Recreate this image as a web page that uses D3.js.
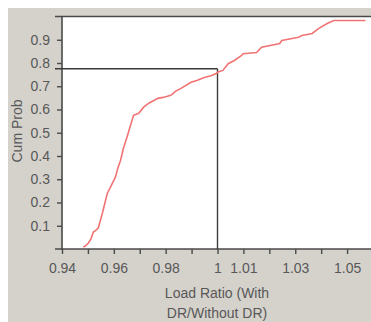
<!DOCTYPE html>
<html>
<head>
<meta charset="utf-8">
<script src="https://cdn.jsdelivr.net/npm/d3@7"></script>
<style>
  html, body { margin: 0; padding: 0; background: #fff; }
  svg { display: block; }
  text { font-family: "Liberation Sans", Arial, sans-serif; }
</style>
</head>
<body>
<div id="chart"></div>
<script>
// cumulative distribution
const loadRatio = [0.9482, 0.9490, 0.9502, 0.9512, 0.9521, 0.9530, 0.9540, 0.9556, 0.9566, 0.9575,
  0.9587, 0.9606, 0.9616, 0.9626, 0.9637, 0.9645, 0.9653, 0.9676, 0.9696, 0.9715,
  0.9735, 0.9770, 0.9790, 0.9820, 0.9840, 0.9859, 0.9898, 0.9920, 0.9949, 0.9975,
  0.9995, 1.0002, 1.0021, 1.0041, 1.0065, 1.0093, 1.0099, 1.0151, 1.0170, 1.0240,
  1.0248, 1.0313, 1.0326, 1.0365, 1.0391, 1.0423, 1.0449, 1.0571];
const cumProb = [0.009, 0.013, 0.026, 0.045, 0.073, 0.080, 0.090, 0.155, 0.200, 0.240,
  0.266, 0.309, 0.350, 0.382, 0.433, 0.460, 0.489, 0.575, 0.584, 0.610,
  0.627, 0.648, 0.652, 0.661, 0.680, 0.691, 0.717, 0.725, 0.738, 0.745,
  0.755, 0.761, 0.768, 0.797, 0.811, 0.833, 0.840, 0.845, 0.868, 0.884,
  0.897, 0.911, 0.918, 0.927, 0.949, 0.970, 0.983, 0.983];

const xTicks = [0.94, 0.95, 0.96, 0.97, 0.98, 0.99, 1, 1.01, 1.02, 1.03, 1.04, 1.05];
const xLabels = ['0.94', '', '0.96', '', '0.98', '', '1', '1.01', '', '1.03', '', '1.05'];
const yTicks = [0.1, 0.2, 0.3, 0.4, 0.5, 0.6, 0.7, 0.8, 0.9];
const refX = 1.0;
const refP = 0.775;

const width = 371, height = 322;
const plot = { left: 62, right: 373, top: 16.5, bottom: 249 };
const axisColor = '#4a4a4a';
const textColor = '#585858';

const svg = d3.select('#chart').append('svg')
  .attr('width', width)
  .attr('height', height);

// grey panel
svg.append('rect')
  .attr('x', 8).attr('y', 8)
  .attr('width', width - 8).attr('height', height - 8)
  .attr('fill', '#d5d2cc');

svg.append('rect')
  .attr('x', plot.left).attr('y', plot.top)
  .attr('width', width - plot.left).attr('height', plot.bottom - plot.top)
  .attr('fill', '#fff');

const x = d3.scaleLinear().domain([0.94, 1.06]).range([plot.left, plot.right]);
const y = d3.scaleLinear().domain([0, 1]).range([plot.bottom, plot.top]);

// axes
const xAxis = svg.append('g')
  .attr('transform', `translate(0,${plot.bottom})`)
  .call(d3.axisBottom(x).tickValues(xTicks).tickSize(5).tickPadding(9)
    .tickFormat((d, i) => xLabels[i]));

const yAxis = svg.append('g')
  .attr('transform', `translate(${plot.left},0)`)
  .call(d3.axisLeft(y).tickValues(yTicks).tickSize(5).tickPadding(7)
    .tickFormat(d3.format('.1f')));

[xAxis, yAxis].forEach(g => {
  g.select('.domain').remove();
  g.selectAll('line').attr('stroke', axisColor).attr('stroke-width', 1.4);
  g.selectAll('text').attr('fill', textColor).style('font-size', '14px');
});

// frame lines
svg.append('line')
  .attr('x1', 55).attr('x2', width)
  .attr('y1', plot.top).attr('y2', plot.top)
  .attr('stroke', axisColor).attr('stroke-width', 1.6);
svg.append('line')
  .attr('x1', 55).attr('x2', width)
  .attr('y1', plot.bottom).attr('y2', plot.bottom)
  .attr('stroke', axisColor).attr('stroke-width', 1.6);
svg.append('line')
  .attr('x1', plot.left).attr('x2', plot.left)
  .attr('y1', plot.top).attr('y2', plot.bottom + 1)
  .attr('stroke', axisColor).attr('stroke-width', 1.6);

// reference lines
svg.append('line')
  .attr('x1', 55).attr('x2', x(refX))
  .attr('y1', y(refP)).attr('y2', y(refP))
  .attr('stroke', '#3a3a3a').attr('stroke-width', 1.4);
svg.append('line')
  .attr('x1', x(refX)).attr('x2', x(refX))
  .attr('y1', y(refP)).attr('y2', plot.bottom)
  .attr('stroke', '#3a3a3a').attr('stroke-width', 1.4);

// curve
const pts = loadRatio.map((v, i) => [v, cumProb[i]]);
const line = d3.line()
  .x(d => x(d[0]))
  .y(d => y(d[1]));

svg.append('path')
  .datum(pts)
  .attr('d', line)
  .attr('fill', 'none')
  .attr('stroke', '#f07474')
  .attr('stroke-width', 1.6);

// labels
svg.append('text')
  .attr('transform', 'translate(22,131) rotate(-90)')
  .attr('text-anchor', 'middle')
  .attr('fill', textColor)
  .style('font-size', '14px')
  .text('Cum Prob');

svg.append('text')
  .attr('x', 217).attr('y', 298)
  .attr('text-anchor', 'middle')
  .attr('fill', textColor)
  .style('font-size', '14px')
  .text('Load Ratio (With');

svg.append('text')
  .attr('x', 217).attr('y', 318)
  .attr('text-anchor', 'middle')
  .attr('fill', textColor)
  .style('font-size', '14px')
  .text('DR/Without DR)');
</script>
</body>
</html>
